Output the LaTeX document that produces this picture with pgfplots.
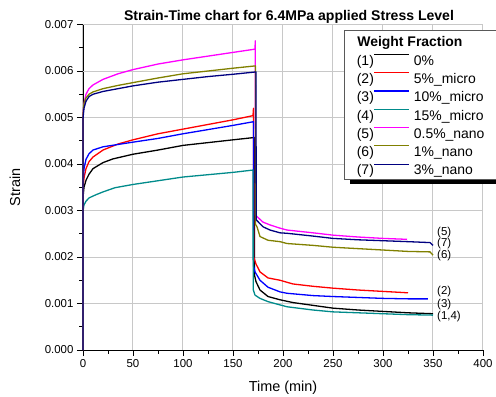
\documentclass[border=0pt]{standalone}
\usepackage{fontspec}
\setmainfont{Liberation Sans}
\usepackage{pgfplots}
\pgfplotsset{compat=1.18}
\definecolor{cblack}{HTML}{000000}
\definecolor{cred}{HTML}{FF0000}
\definecolor{cblue}{HTML}{0000FF}
\definecolor{cteal}{HTML}{008B8B}
\definecolor{cmag}{HTML}{FF00FF}
\definecolor{colive}{HTML}{808000}
\definecolor{cnavy}{HTML}{000080}
\definecolor{cgrid}{HTML}{C8C8C8}
\pgfplotsset{legline/.style={legend image code/.code={%
  \pgfpathmoveto{\pgfqpoint{-17bp}{0bp}}\pgfpathlineto{\pgfqpoint{35bp}{0bp}}\pgfusepath{}%
  \draw[line width=1.2bp] (0bp,4.8bp) -- (35bp,4.8bp);}}}
\newcommand{\lnum}[1]{\makebox[0pt][r]{(#1)\hspace*{40bp}}}
\begin{document}
\begin{tikzpicture}
\begin{axis}[
  scale only axis, width=400bp, height=325.5bp,
  xmin=0, xmax=400, ymin=0, ymax=0.007,
  axis lines*=left, axis line style={line width=0.8bp},
  clip=false,
  tick align=outside,
  major tick length=6bp, minor tick length=3.5bp,
  tick style={black, line width=0.8bp},
  xtick={0,50,...,400}, minor x tick num=1,
  ytick={0,0.001,...,0.007}, minor y tick num=1,
  scaled y ticks=false,
  yticklabel style={/pgf/number format/.cd, fixed, fixed zerofill, precision=3},
  /pgf/number format/assume math mode=true,
  ticklabel style={font=\fontsize{11.5}{13}\selectfont},
  grid=major,
  major grid style={draw=cgrid, line width=1bp},
  title={\textbf{Strain-Time chart for 6.4MPa applied Stress Level}},
  title style={at={(axis description cs:0.515,1)}, anchor=center, yshift=2bp, font=\fontsize{14.1}{16}\selectfont},
  xlabel={Time (min)},
  xlabel style={at={(axis description cs:0.5,0)}, anchor=center, yshift=-38bp, font=\fontsize{14.5}{16}\selectfont},
  legend style={at={(axis cs:261,0.00688)}, anchor=north west,
    draw=gray!70!black, line width=0.6bp, fill=white,
    font=\fontsize{14}{16}\selectfont,
    inner xsep=13bp, inner ysep=4bp, row sep=5.3bp, column sep=4bp,
    nodes={inner sep=0bp, text height=12.5bp, text depth=0.5bp}},
  legend cell align=left,
  every axis plot/.append style={line width=1.3bp, line join=round},
]
% light grid (explicit, beneath the curves)
\pgfplotsinvokeforeach{50,100,150,200,250,300,350,400}{
  \draw[draw=cgrid, line width=1bp] (axis cs:#1,0) -- (axis cs:#1,0.007);}
\pgfplotsinvokeforeach{0.001,0.002,0.003,0.004,0.005,0.006,0.007}{
  \draw[draw=cgrid, line width=1bp] (axis cs:0,#1) -- (axis cs:400,#1);}
% legend shadow bar
\fill[black] (axis cs:267,0.00366) rectangle (axis cs:413,0.00358);

\addlegendimage{legend image code/.code={\pgfpathmoveto{\pgfqpoint{-17bp}{0bp}}\pgfpathlineto{\pgfqpoint{35bp}{0bp}}\pgfusepath{}}}
\addlegendentry{\makebox[0pt][l]{\hspace*{-57bp}\textbf{Weight Fraction}}}

% (1) 0%
\addplot[cblack, legline] coordinates {
(0,0) (0.1,0.0033) (1,0.0035) (3,0.00365) (6,0.00378) (10,0.0039) (20,0.00403) (30,0.00411) (50,0.00421) (75,0.0043) (100,0.0044) (125,0.00446) (150,0.00452) (171.5,0.00457)
(171.6,0.0016) (173,0.00147) (177,0.00129) (185,0.00115) (197,0.00108) (210,0.00102) (230,0.00096) (250,0.0009) (275,0.00086) (300,0.00083) (325,0.0008) (350,0.00078)};
\addlegendentry{\lnum{1}0\%}

% (2) 5% micro
\addplot[cred, legline] coordinates {
(0,0) (0.1,0.0035) (1,0.0037) (3,0.0039) (6,0.00405) (10,0.00415) (20,0.0043) (35,0.00443) (50,0.00452) (75,0.00465) (100,0.00475) (125,0.00485) (150,0.00495) (170,0.00504)
(170.5,0.0052) (170.7,0.0020) (173,0.00185) (177,0.00168) (185,0.00155) (197,0.0015) (210,0.00142) (230,0.00137) (250,0.00133) (275,0.00129) (300,0.00126) (325,0.00123)};
\addlegendentry{\lnum{2}5\%\_micro}

% (3) 10% micro
\addplot[cblue, legline] coordinates {
(0,0) (0.1,0.0036) (1,0.0039) (3,0.0041) (6,0.00422) (10,0.0043) (20,0.00437) (35,0.00442) (50,0.00447) (75,0.00455) (100,0.00465) (125,0.00474) (150,0.00483) (170.5,0.00491)
(170.6,0.0018) (172,0.00168) (177,0.0015) (185,0.00135) (197,0.00125) (204,0.00122) (230,0.00117) (250,0.00115) (275,0.00113) (300,0.00111) (325,0.0011) (345,0.0011)};
\addlegendentry{\lnum{3}10\%\_micro}

% (4) 15% micro
\addplot[cteal, legline] coordinates {
(0,0) (0.1,0.003) (1,0.00312) (3,0.0032) (6,0.00327) (12,0.00333) (20,0.0034) (32,0.00349) (50,0.00356) (75,0.00364) (100,0.00372) (125,0.00377) (150,0.00382) (170,0.00387)
(170.2,0.0013) (172,0.00118) (177,0.00111) (185,0.00104) (197,0.00097) (204,0.00093) (230,0.00086) (250,0.00082) (275,0.0008) (300,0.00078) (325,0.00076) (350,0.00075)};
\addlegendentry{\lnum{4}15\%\_micro}

% (5) 0.5% nano
\addplot[cmag, legline] coordinates {
(0,0) (0.1,0.0051) (1,0.0053) (3,0.0055) (6,0.00562) (10,0.0057) (20,0.00582) (35,0.00594) (50,0.00603) (75,0.00615) (100,0.00624) (125,0.00632) (150,0.0064) (172,0.00647)
(172.3,0.00665) (172.5,0.0029) (174,0.00287) (180,0.00275) (187,0.00269) (197,0.00262) (204,0.00258) (230,0.00252) (250,0.00247) (275,0.00243) (300,0.0024) (324,0.00238)};
\addlegendentry{\lnum{5}0.5\%\_nano}

% (6) 1% nano
\addplot[colive, legline] coordinates {
(0,0) (0.1,0.0051) (1,0.0053) (3,0.00542) (6,0.0055) (10,0.00555) (20,0.00562) (35,0.00569) (50,0.00575) (75,0.00585) (100,0.00594) (125,0.006) (150,0.00606) (172.5,0.00611)
(172.6,0.0027) (174,0.00265) (177,0.00244) (185,0.00236) (197,0.00233) (204,0.00229) (230,0.00225) (250,0.00221) (275,0.00218) (300,0.00215) (325,0.00212) (347,0.00211) (350,0.00204)};
\addlegendentry{\lnum{6}1\%\_nano}

% (7) 3% nano
\addplot[cnavy, legline] coordinates {
(0,0) (0.1,0.0050) (1,0.0052) (3,0.00535) (6,0.00545) (10,0.0055) (20,0.00556) (35,0.00562) (50,0.00568) (75,0.00576) (100,0.00582) (125,0.00588) (150,0.00593) (173,0.00598)
(173.2,0.0028) (175,0.00276) (180,0.00265) (187,0.00258) (197,0.00252) (204,0.00251) (230,0.00245) (250,0.0024) (275,0.00237) (300,0.00235) (325,0.00233) (347,0.00231) (350,0.00225)};
\addlegendentry{\lnum{7}3\%\_nano}

\node[rotate=90, anchor=center, inner sep=0bp, font=\fontsize{14.5}{16}\selectfont] at (axis description cs:-0.17,0.5) {Strain};
\begin{scope}[every node/.style={anchor=west, inner sep=0bp, font=\fontsize{11.5}{13}\selectfont}]
\node at (axis cs:354,0.00252) {(5)};
\node at (axis cs:354,0.00228) {(7)};
\node at (axis cs:354,0.00204) {(6)};
\node at (axis cs:354,0.00125) {(2)};
\node at (axis cs:354,0.00097) {(3)};
\node at (axis cs:354,0.00071) {(1,4)};
\end{scope}
\end{axis}
\pgfresetboundingbox
\path (-83bp,-47bp) rectangle (413bp,350bp);
\end{tikzpicture}
\end{document}
